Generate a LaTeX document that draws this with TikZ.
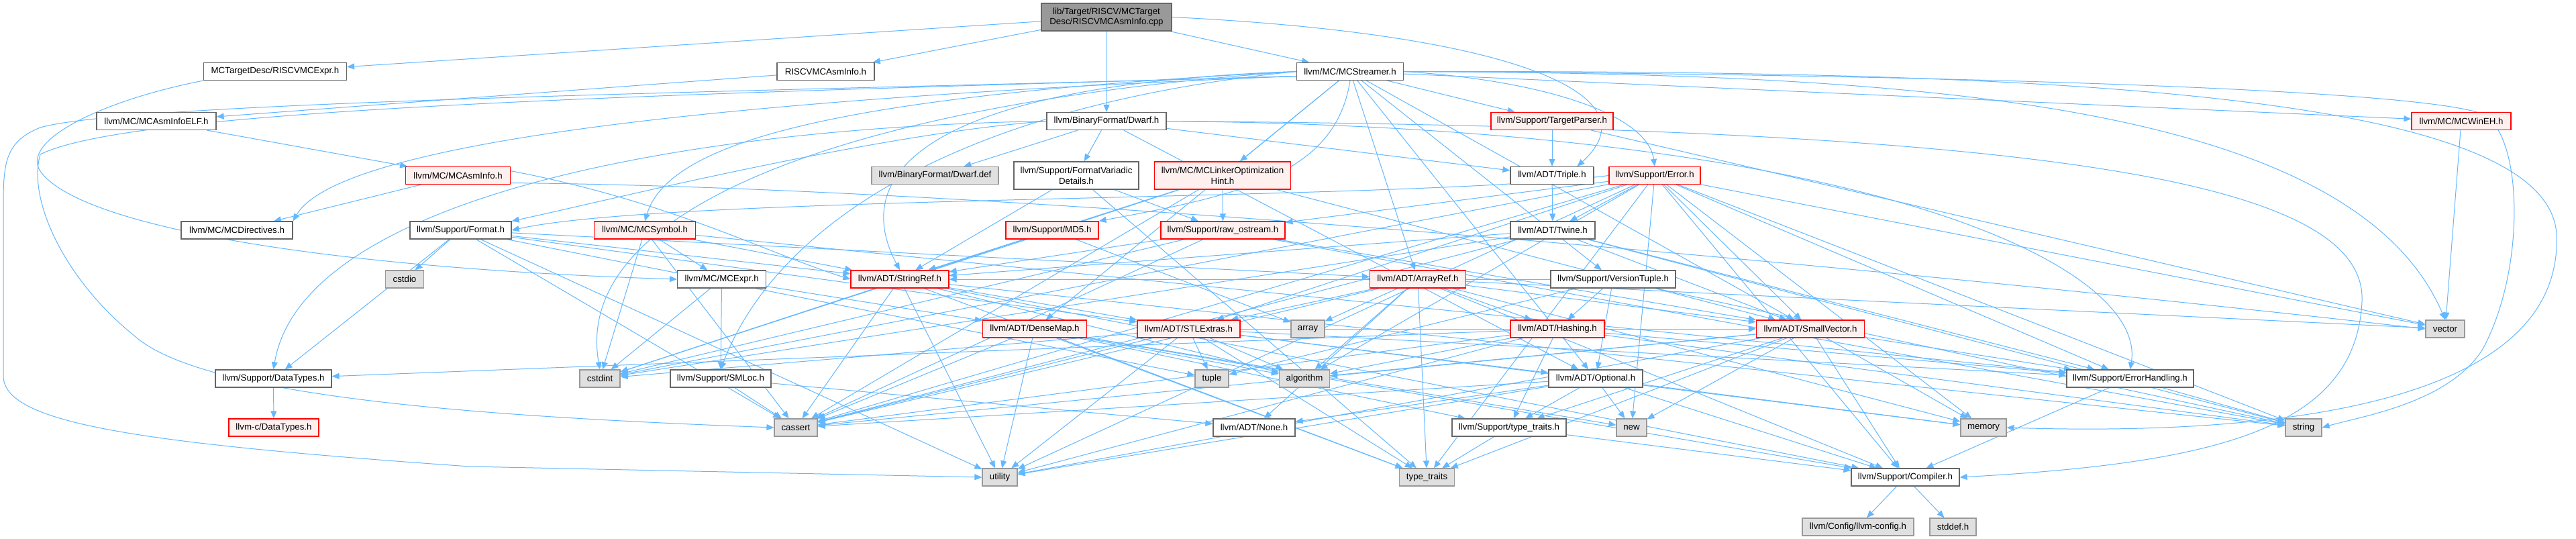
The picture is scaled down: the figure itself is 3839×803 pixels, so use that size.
\documentclass[tikz,border=0pt]{standalone}
\usepackage{fontspec}
\setmainfont{Liberation Sans}
\usetikzlibrary{arrows.meta}
\definecolor{edgec}{HTML}{63B8FF}
\definecolor{nbord}{HTML}{666666}
\definecolor{rbord}{HTML}{FF0000}
\definecolor{rfill}{HTML}{FFF0F0}
\definecolor{sbord}{HTML}{999999}
\definecolor{sfill}{HTML}{E0E0E0}
\definecolor{tfill}{HTML}{999999}
\pgfdeclarelayer{bg}\pgfdeclarelayer{edges}\pgfsetlayers{bg,edges,main}
\begin{document}
\begin{tikzpicture}[x=1pt,y=-1pt,
  box/.style={rectangle, minimum height=26pt, inner sep=0pt, line width=1.2pt, font=\fontsize{13.3}{15.5}\selectfont, align=center},
  nn/.style={box, draw=nbord, fill=white},
  rn/.style={box, draw=rbord, fill=rfill},
  sn/.style={box, draw=sbord, fill=sfill},
  tn/.style={box, draw=nbord, fill=tfill},
  e/.style={draw=edgec, line width=1pt, -{Triangle[length=11pt,width=9pt]}}]
\useasboundingbox (0,0) rectangle (3839,803);
\begin{pgfonlayer}{bg}\fill[white] (0,0) rectangle (3839,803);\end{pgfonlayer}
% nodes
\node[tn, minimum width=194pt, minimum height=41pt] (top) at (1649,25.5) {lib/Target/RISCV/MCTarget\\Desc/RISCVMCAsmInfo.cpp};
\node[nn, minimum width=213pt] (rmcexpr) at (410,106.5) {MCTargetDesc/RISCVMCExpr.h};
\node[nn, minimum width=145pt] (rasminfo) at (1230.5,106.5) {RISCVMCAsmInfo.h};
\node[nn, minimum width=159pt] (streamer) at (2012,106.5) {llvm/MC/MCStreamer.h};
\node[nn, minimum width=178pt] (asmelf) at (233,180.5) {llvm/MC/MCAsmInfoELF.h};
\node[nn, minimum width=178pt] (dwarf) at (1649,180.5) {llvm/BinaryFormat/Dwarf.h};
\node[rn, minimum width=182pt] (tparser) at (2313,180.5) {llvm/Support/TargetParser.h};
\node[rn, minimum width=148pt] (wineh) at (3668,180.5) {llvm/MC/MCWinEH.h};
\node[rn, minimum width=156pt] (asminfo) at (682.6,261.5) {llvm/MC/MCAsmInfo.h};
\node[sn, minimum width=189pt] (dwdef) at (1393.5,261.5) {llvm/BinaryFormat/Dwarf.def};
\node[nn, minimum width=186pt, minimum height=41pt] (fvd) at (1604,261.5) {llvm/Support/FormatVariadic\\Details.h};
\node[rn, minimum width=203pt, minimum height=41pt] (loh) at (1822,261.5) {llvm/MC/MCLinkerOptimization\\Hint.h};
\node[nn, minimum width=124pt] (triple) at (2313,261.5) {llvm/ADT/Triple.h};
\node[rn, minimum width=136pt] (error) at (2466,261.5) {llvm/Support/Error.h};
\node[nn, minimum width=166pt] (mcdir) at (353,343) {llvm/MC/MCDirectives.h};
\node[nn, minimum width=151pt] (format) at (686.5,343) {llvm/Support/Format.h};
\node[rn, minimum width=151pt] (mcsym) at (961,343) {llvm/MC/MCSymbol.h};
\node[rn, minimum width=138pt] (md5) at (1568,343) {llvm/Support/MD5.h};
\node[rn, minimum width=185pt] (raw) at (1822.5,343) {llvm/Support/raw\_ostream.h};
\node[nn, minimum width=126pt] (twine) at (2314,343) {llvm/ADT/Twine.h};
\node[sn, minimum width=57pt] (cstdio) at (603,416) {cstdio};
\node[nn, minimum width=132pt] (mcexpr) at (1075.6,416) {llvm/MC/MCExpr.h};
\node[rn, minimum width=146pt] (stringref) at (1341,416) {llvm/ADT/StringRef.h};
\node[rn, minimum width=143pt] (arrayref) at (2113,416) {llvm/ADT/ArrayRef.h};
\node[nn, minimum width=186pt] (vtuple) at (2404,416) {llvm/Support/VersionTuple.h};
\node[rn, minimum width=155pt] (densemap) at (1542,490) {llvm/ADT/DenseMap.h};
\node[rn, minimum width=153pt] (stlextras) at (1771.5,490) {llvm/ADT/STLExtras.h};
\node[sn, minimum width=50pt] (array) at (1949,490) {array};
\node[rn, minimum width=140pt] (hashing) at (2321,490) {llvm/ADT/Hashing.h};
\node[rn, minimum width=161pt] (smallvec) at (2698,490) {llvm/ADT/SmallVector.h};
\node[sn, minimum width=58pt] (vector) at (3644,490) {vector};
\node[nn, minimum width=173pt] (datatypes) at (407.5,564) {llvm/Support/DataTypes.h};
\node[sn, minimum width=60pt] (cstdint) at (894,564) {cstdint};
\node[nn, minimum width=150pt] (smloc) at (1074,564) {llvm/Support/SMLoc.h};
\node[sn, minimum width=50pt] (tuple) at (1806,564) {tuple};
\node[sn, minimum width=75pt] (algorithm) at (1944,564) {algorithm};
\node[nn, minimum width=140pt] (optional) at (2378,564) {llvm/ADT/Optional.h};
\node[nn, minimum width=189pt] (errh) at (3174.5,564) {llvm/Support/ErrorHandling.h};
\node[rn, minimum width=134pt] (cdatatypes) at (408,637) {llvm-c/DataTypes.h};
\node[sn, minimum width=64pt] (cassert) at (1186,637) {cassert};
\node[nn, minimum width=122pt] (none) at (1869,637) {llvm/ADT/None.h};
\node[nn, minimum width=170pt] (sttraits) at (2249,637) {llvm/Support/type\_traits.h};
\node[sn, minimum width=45pt] (new) at (2431.5,637) {new};
\node[sn, minimum width=68pt] (memory) at (2956,637) {memory};
\node[sn, minimum width=54pt] (string) at (3433,637) {string};
\node[sn, minimum width=52pt] (utility) at (1490,711) {utility};
\node[sn, minimum width=82pt] (typetraits) at (2126.6,711) {type\_traits};
\node[nn, minimum width=161pt] (compiler) at (2839.5,711) {llvm/Support/Compiler.h};
\node[sn, minimum width=166pt] (llvmconfig) at (2769,785) {llvm/Config/llvm-config.h};
\node[sn, minimum width=69pt] (stddef) at (2910.5,785) {stddef.h};
% edges
\begin{pgfonlayer}{edges}
\foreach \a/\b in {top/rmcexpr, top/rasminfo, top/dwarf, top/streamer, rasminfo/asmelf, asmelf/asminfo, asminfo/mcdir,
 streamer/arrayref, streamer/densemap, streamer/optional, streamer/smallvec, streamer/loh, streamer/wineh, streamer/tparser, streamer/vtuple,
 dwarf/dwdef, dwarf/fvd, dwarf/triple, dwarf/optional,
 fvd/raw, fvd/stringref, fvd/typetraits,
 loh/raw, loh/smallvec, loh/stringref, loh/cassert, loh/cstdint,
 tparser/triple, tparser/vector, triple/twine,
 error/twine, error/raw, error/stlextras, error/smallvec, error/compiler, error/errh, error/algorithm, error/cassert, error/cstdint, error/memory, error/new, error/string, error/typetraits, error/utility, error/vector,
 raw/stringref, raw/smallvec, raw/cassert, raw/cstdint, raw/string,
 format/cstdio, format/datatypes, format/arrayref, format/stlextras, format/stringref, format/cassert, format/tuple, format/utility,
 mcsym/stringref, mcsym/mcexpr, mcsym/errh, mcsym/cassert, mcsym/cstdint,
 md5/stringref, md5/array, md5/cstdint,
 twine/stringref, twine/smallvec, twine/errh, twine/cassert, twine/cstdint, twine/string,
 mcexpr/smloc, mcexpr/cstdint, mcexpr/densemap,
 stringref/stlextras, stringref/compiler, stringref/algorithm, stringref/cassert, stringref/string, stringref/typetraits, stringref/utility,
 arrayref/hashing, arrayref/none, arrayref/smallvec, arrayref/stlextras, arrayref/compiler, arrayref/algorithm, arrayref/array, arrayref/cassert, arrayref/memory, arrayref/typetraits, arrayref/vector,
 vtuple/hashing, vtuple/optional, vtuple/stringref, vtuple/string, vtuple/tuple,
 densemap/compiler, densemap/sttraits, densemap/algorithm, densemap/cassert, densemap/new, densemap/typetraits, densemap/utility,
 stlextras/optional, stlextras/smallvec, stlextras/errh, stlextras/algorithm, stlextras/cassert, stlextras/cstdint, stlextras/memory, stlextras/tuple, stlextras/typetraits, stlextras/utility,
 hashing/datatypes, hashing/errh, hashing/sttraits, hashing/algorithm, hashing/cassert, hashing/string, hashing/utility,
 smallvec/compiler, smallvec/sttraits, smallvec/errh, smallvec/algorithm, smallvec/cassert, smallvec/memory, smallvec/new, smallvec/typetraits, smallvec/utility,
 optional/none, optional/compiler, optional/sttraits, optional/cassert, optional/memory, optional/new, optional/utility,
 sttraits/compiler, sttraits/typetraits, errh/compiler, errh/string,
 compiler/llvmconfig, compiler/stddef, datatypes/cdatatypes, smloc/none, smloc/cassert, wineh/vector}
 {\draw[e] (\a) -- (\b);}
% curved connectors
\draw[e] (top.east) .. controls (2250,50) and (2470,140) .. (triple.20);
\draw[e] (rmcexpr.south west) .. controls (150,150) and (30,210) .. (60,255) .. controls (120,340) and (500,400) .. (mcexpr.west);
\draw[e] (asminfo.5) .. controls (1000,300) and (1150,380) .. (stringref.west);
\draw[e] (asminfo.-8) .. controls (1600,280) and (3000,420) .. (vector.west);
\draw[e] (streamer.west) .. controls (1400,125) and (1260,250) .. (stringref.north);
\draw[e] (streamer.185) .. controls (1000,150) and (500,220) .. (mcdir.north east);
\draw[e] (streamer.west) .. controls (1300,140) and (1000,200) .. (mcsym.north);
\draw[e] (streamer.south) .. controls (1990,260) and (1850,290) .. (md5.north east);
\draw[e] (streamer.west) .. controls (1400,160) and (1150,350) .. (smloc.north);
\draw[e] (streamer.west) .. controls (1300,150) and (850,300) .. (cstdint.north);
\draw[e] (streamer.east) .. controls (2300,120) and (2455,170) .. (error.north);
\draw[e] (streamer.185) .. controls (1200,135) and (200,150) .. (60,190) .. controls (10,210) and (5,240) .. (5,300) -- (5,560) .. controls (5,630) and (200,660) .. (700,695) -- (utility.west);
\draw[e] (streamer.185) .. controls (1000,140) and (200,160) .. (60,230) .. controls (40,300) and (100,420) .. (200,500) .. controls (300,590) and (700,620) .. (cassert.west);
\draw[e] (streamer.east) .. controls (2800,110) and (3600,130) .. (3700,170) .. controls (3760,200) and (3765,400) .. (3700,520) .. controls (3650,600) and (3520,620) .. (string.east);
\draw[e] (streamer.east) .. controls (2800,110) and (3500,140) .. (vector.north);
\draw[e] (streamer.east) .. controls (3000,105) and (3800,130) .. (3810,350) .. controls (3820,600) and (3400,650) .. (memory.east);
\draw[e] (dwarf.east) .. controls (2800,190) and (3200,400) .. (errh.north);
\draw[e] (dwarf.east) .. controls (3000,190) and (3530,260) .. (3520,450) .. controls (3510,640) and (3300,690) .. (compiler.east);
\draw[e] (dwarf.west) .. controls (1300,200) and (900,300) .. (format.north east);
\draw[e] (dwarf.west) .. controls (1000,190) and (450,300) .. (datatypes.north);
\draw[e] (error.west) .. controls (2100,300) and (1000,290) .. (format.east);
\end{pgfonlayer}
\end{tikzpicture}
\end{document}
